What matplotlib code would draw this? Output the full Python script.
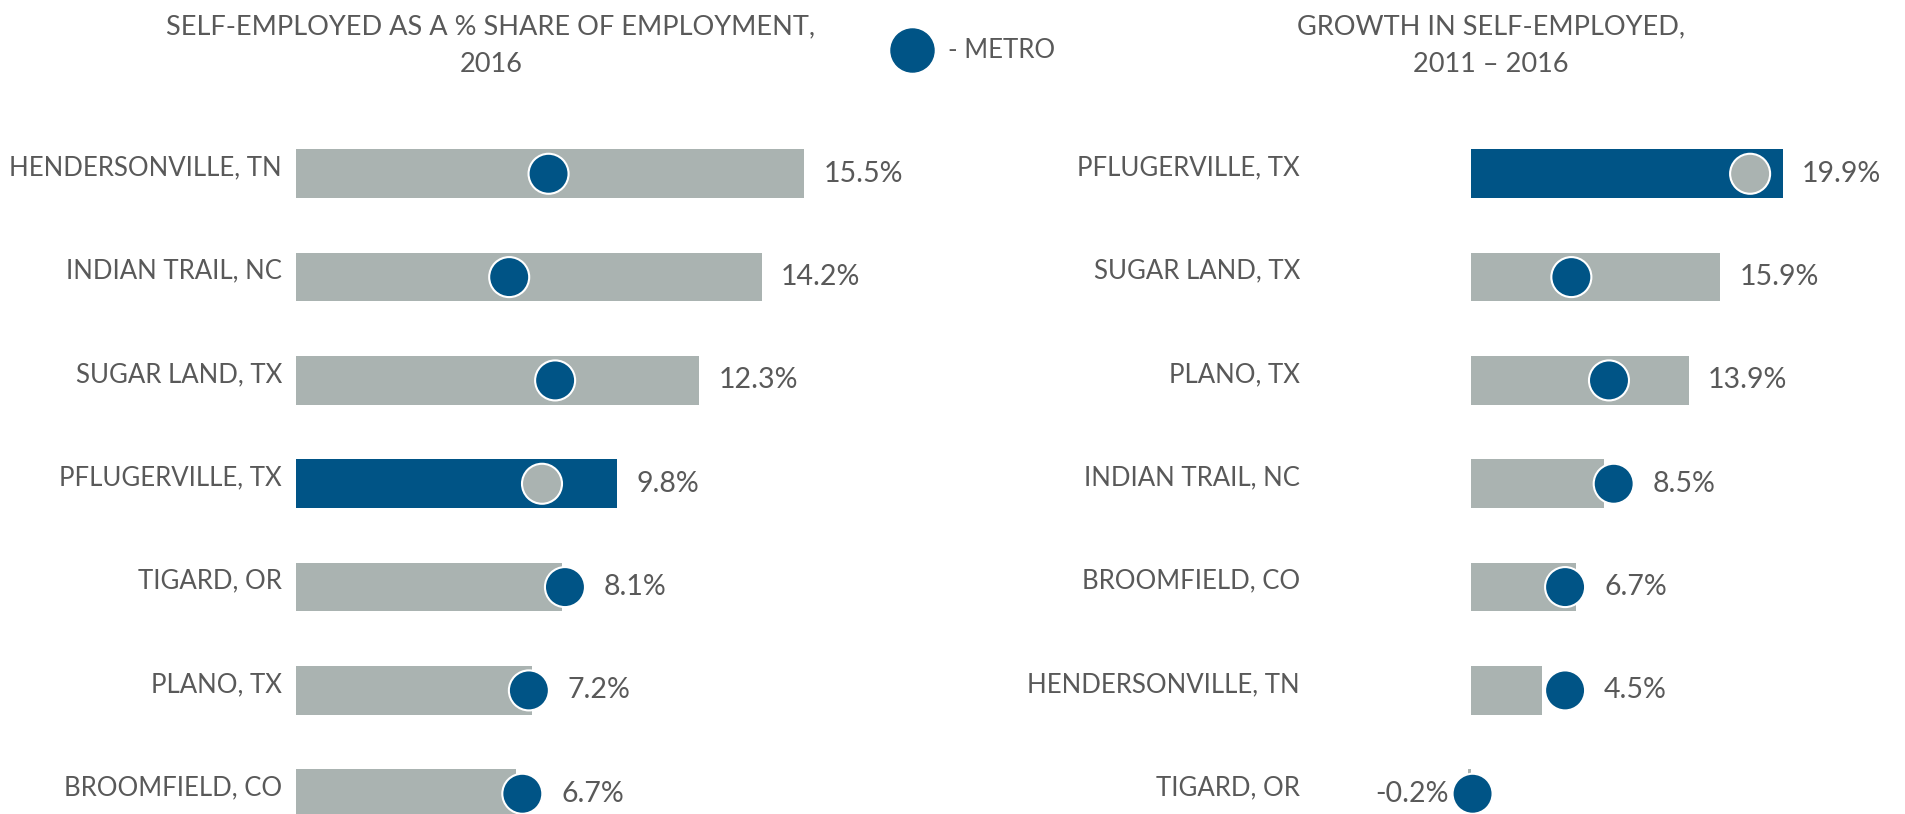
import matplotlib
import matplotlib.pyplot as plt
from matplotlib.lines import Line2D

matplotlib.use("Agg")

plt.rcParams["font.family"] = ["Lato", "DejaVu Sans"]

GRAY = "#aab3b1"
BLUE = "#005486"
TEXT = "#595959"
HIGHLIGHT = "PFLUGERVILLE, TX"

# left panel: self-employed share of employment, 2016
share_cities = ["HENDERSONVILLE, TN", "INDIAN TRAIL, NC", "SUGAR LAND, TX", "PFLUGERVILLE, TX",
                "TIGARD, OR", "PLANO, TX", "BROOMFIELD, CO"]
share_city = [15.5, 14.2, 12.3, 9.8, 8.1, 7.2, 6.7]
share_metro = [7.7, 6.5, 7.9, 7.5, 8.2, 7.1, 6.9]

# right panel: growth in self-employed, 2011-2016
growth_cities = ["PFLUGERVILLE, TX", "SUGAR LAND, TX", "PLANO, TX", "INDIAN TRAIL, NC",
                 "BROOMFIELD, CO", "HENDERSONVILLE, TN", "TIGARD, OR"]
growth_city = [19.9, 15.9, 13.9, 8.5, 6.7, 4.5, -0.2]
growth_metro = [17.8, 6.4, 8.8, 9.1, 6.0, 6.0, 0.1]

W, H = 1906, 814
fig = plt.figure(figsize=(W / 100, H / 100), dpi=100)

row_top = 122.1  # px from top where y = -0.5
row_step = 103.33


def make_axes(x0_px, px_per_unit, xmin, xmax):
    left = x0_px + xmin * px_per_unit
    width = (xmax - xmin) * px_per_unit
    ax = fig.add_axes([left / W, 0, width / W, (H - row_top) / H])
    ax.set_xlim(xmin, xmax)
    ax.set_ylim((H - row_top) / row_step - 0.5, -0.5)
    ax.axis("off")
    return ax


def draw_panel(ax, cities, city_vals, metro_vals, label_pad, px_per_unit):
    ys = list(range(len(cities)))
    colors = [BLUE if c == HIGHLIGHT else GRAY for c in cities]
    dot_colors = [GRAY if c == HIGHLIGHT else BLUE for c in cities]
    ax.barh(ys, city_vals, height=0.47, color=colors, clip_on=False, zorder=2)
    ax.scatter(metro_vals, ys, s=830, c=dot_colors, edgecolors="white", linewidths=1.5,
               clip_on=False, zorder=3)
    r = 20 / px_per_unit
    for y, c, v, m in zip(ys, cities, city_vals, metro_vals):
        ax.annotate(c, xy=(0, y), xytext=(-label_pad, 6), textcoords="offset pixels",
                    ha="right", va="center", fontsize=18.5, color=TEXT, annotation_clip=False)
        if v < 0:
            x = min(v, m - r)
            ax.annotate(f"{v:.1f}%", xy=(x, y), xytext=(-4, 0), textcoords="offset pixels",
                        ha="right", va="center", fontsize=20.5, color=TEXT, annotation_clip=False)
        else:
            x = max(v, m + r)
            ax.annotate(f"{v:.1f}%", xy=(x, y), xytext=(19, 0), textcoords="offset pixels",
                        ha="left", va="center", fontsize=20.5, color=TEXT, annotation_clip=False)


ax1 = make_axes(296, 32.8, 0, 18.3)
draw_panel(ax1, share_cities, share_city, share_metro, 14, 32.8)

ax2 = make_axes(1471, 15.68, -1, 25)
draw_panel(ax2, growth_cities, growth_city, growth_metro, 171, 15.68)

fig.text(491 / W, 1 - 46 / H, "SELF-EMPLOYED AS A % SHARE OF EMPLOYMENT,\n2016", ha="center",
         va="center", fontsize=19.5, color=TEXT, linespacing=1.65)
fig.text(1491 / W, 1 - 46 / H, "GROWTH IN SELF-EMPLOYED,\n2011 \u2013 2016", ha="center",
         va="center", fontsize=19.5, color=TEXT, linespacing=1.65)

handle = Line2D([], [], marker="o", ls="", color=BLUE, markersize=31)
fig.legend([handle], ["- METRO"], loc="center left", bbox_to_anchor=(886 / W, 1 - 51 / H),
           frameon=False, fontsize=18.5, labelcolor=TEXT, handletextpad=0.9, borderpad=0,
           handlelength=1.0)

fig.savefig("out.png", dpi=100)
